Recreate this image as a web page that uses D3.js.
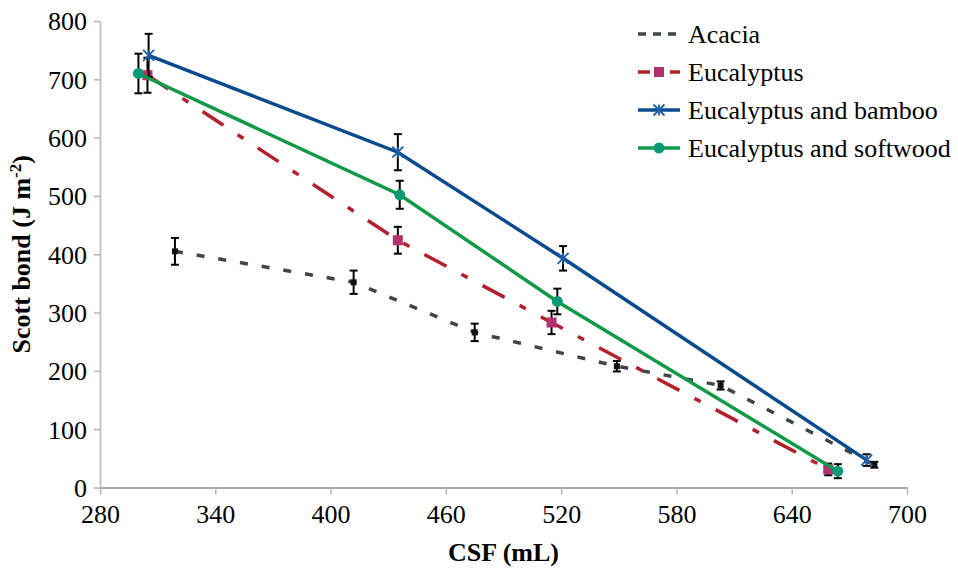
<!DOCTYPE html>
<html>
<head>
<meta charset="utf-8">
<script src="https://cdn.jsdelivr.net/npm/d3@7"></script>
<style>
  html, body { margin: 0; padding: 0; background: #fff; }
  svg text { font-family: "Liberation Serif", "Times New Roman", serif; }
</style>
</head>
<body>
<svg id="chart" width="958" height="572"></svg>
<script>
// CSF (mL) vs Scott bond (J m^-2), with ± error bars
const acaciaCSF   = [319, 412, 475, 549, 603, 683];
const acaciaBond  = [405, 352, 266, 208, 175, 39];
const acaciaErr   = [23, 20, 15, 9, 7, 5];

const eucCSF      = [304.7, 435, 515, 659];
const eucBond     = [707, 424, 283, 31];
const eucErr      = [30, 23, 20, 10];

const bambooCSF   = [305.3, 435, 521, 679];
const bambooBond  = [741, 575, 393, 47];
const bambooErr   = [37, 31, 21, 10];

const softCSF     = [300, 436, 518, 664];
const softBond    = [710, 502, 319, 28];
const softErr     = [34, 24, 22, 12];

const xTicks = [280, 340, 400, 460, 520, 580, 640, 700];
const yTicks = [0, 100, 200, 300, 400, 500, 600, 700, 800];

const seriesNames = ["Acacia", "Eucalyptus", "Eucalyptus and bamboo", "Eucalyptus and softwood"];

const zip = (xs, ys, es) => xs.map((x, i) => ({x, y: ys[i], e: es[i]}));

const series = [
  {name: seriesNames[0], pts: zip(acaciaCSF, acaciaBond, acaciaErr),
   stroke: "#3f4646", dash: "8,14", width: 3.5, marker: "smallsquare", mfill: "#111"},
  {name: seriesNames[1], pts: zip(eucCSF, eucBond, eucErr),
   stroke: "#b3202c", dash: "25,17,7,17", width: 3.5, marker: "square", mfill: "#b5306e"},
  {name: seriesNames[2], pts: zip(bambooCSF, bambooBond, bambooErr),
   stroke: "#0b4a8e", dash: null, width: 3.5, marker: "star", mfill: "#1d5fa8"},
  {name: seriesNames[3], pts: zip(softCSF, softBond, softErr),
   stroke: "#109a47", dash: null, width: 3.5, marker: "circle", mfill: "#0b9a78"}
];

const svg = d3.select("#chart");
const plotLeft = 100, plotRight = 907, plotTop = 21, plotBottom = 487.5;

const x = d3.scaleLinear().domain([280, 700]).range([plotLeft, plotRight]);
const y = d3.scaleLinear().domain([0, 800]).range([plotBottom, plotTop]);

// Axes
const xAxis = svg.append("g").attr("transform", `translate(0,${plotBottom})`)
  .call(d3.axisBottom(x).tickValues(xTicks).tickSize(7).tickSizeOuter(0).tickPadding(10));
const yAxis = svg.append("g").attr("transform", `translate(${plotLeft},0)`)
  .call(d3.axisLeft(y).tickValues(yTicks).tickSize(6).tickSizeOuter(0).tickPadding(7));

[xAxis, yAxis].forEach(g => {
  g.attr("font-size", 26);
  g.select(".domain").attr("stroke", "#a6a6a6").attr("stroke-width", 2);
  g.selectAll(".tick line").attr("stroke", "#b5b5b5").attr("stroke-width", 1.5);
  g.selectAll(".tick text").attr("fill", "#000");
});
yAxis.select(".domain").attr("stroke", "#c4c4c4");
xAxis.selectAll(".tick text").attr("dy", "0.71em");
yAxis.selectAll(".tick text").attr("dy", "0.34em");

// Axis titles
svg.append("text")
  .attr("x", (plotLeft + plotRight) / 2).attr("y", 561)
  .attr("text-anchor", "middle")
  .style("font-size", "26px").style("font-weight", "bold")
  .text("CSF (mL)");

const yTitle = svg.append("text")
  .attr("transform", `translate(30,${(plotTop + plotBottom) / 2}) rotate(-90)`)
  .attr("text-anchor", "middle")
  .style("font-size", "26px").style("font-weight", "bold");
yTitle.append("tspan").text("Scott bond (J m");
yTitle.append("tspan").attr("dy", "-9").style("font-size", "17px").text("-2");
yTitle.append("tspan").attr("dy", "9").text(")");

const line = d3.line().x(d => x(d.x)).y(d => y(d.y));

function drawMarker(g, type, cx, cy, fill) {
  if (type === "square") {
    g.append("rect").attr("x", cx - 5).attr("y", cy - 5).attr("width", 10).attr("height", 10).attr("fill", fill);
  } else if (type === "smallsquare") {
    g.append("rect").attr("x", cx - 3).attr("y", cy - 3).attr("width", 6).attr("height", 6).attr("fill", fill);
  } else if (type === "circle") {
    g.append("circle").attr("cx", cx).attr("cy", cy).attr("r", 5.5).attr("fill", fill);
  } else if (type === "star") {
    const r = 5.5;
    const p = d3.path();
    p.moveTo(cx - r, cy - r); p.lineTo(cx + r, cy + r);
    p.moveTo(cx - r, cy + r); p.lineTo(cx + r, cy - r);
    p.moveTo(cx, cy - r); p.lineTo(cx, cy + r);
    g.append("path").attr("d", p.toString()).attr("stroke", fill).attr("stroke-width", 1.8).attr("fill", "none");
  }
}

// Series lines, error bars and markers
series.forEach(s => {
  const g = svg.append("g");
  g.append("path").datum(s.pts)
    .attr("d", line).attr("fill", "none")
    .attr("stroke", s.stroke).attr("stroke-width", s.width)
    .attr("stroke-dasharray", s.dash);

  s.pts.forEach(d => {
    const cx = x(d.x), y0 = y(d.y - d.e), y1 = y(d.y + d.e);
    const eb = g.append("g").attr("stroke", "#000").attr("stroke-width", 2);
    eb.append("line").attr("x1", cx).attr("x2", cx).attr("y1", y0).attr("y2", y1);
    eb.append("line").attr("x1", cx - 4).attr("x2", cx + 4).attr("y1", y0).attr("y2", y0);
    eb.append("line").attr("x1", cx - 4).attr("x2", cx + 4).attr("y1", y1).attr("y2", y1);
  });
  s.pts.forEach(d => drawMarker(g, s.marker, x(d.x), y(d.y), s.mfill));
});

// Legend
const legend = svg.append("g");
const legendY = [34, 72, 110, 148];
series.forEach((s, i) => {
  const ly = legendY[i];
  const lg = legend.append("g");
  lg.append("line").attr("x1", 638).attr("x2", 680).attr("y1", ly).attr("y2", ly)
    .attr("stroke", s.stroke).attr("stroke-width", s.width)
    .attr("stroke-dasharray", i === 0 ? "8,7" : (i === 1 ? "12,20" : null));
  if (s.marker !== "smallsquare") drawMarker(lg, s.marker, 659, ly, s.mfill);
  lg.append("text").attr("x", 688).attr("y", ly + 9)
    .style("font-size", "26px").text(s.name);
});
</script>
</body>
</html>
